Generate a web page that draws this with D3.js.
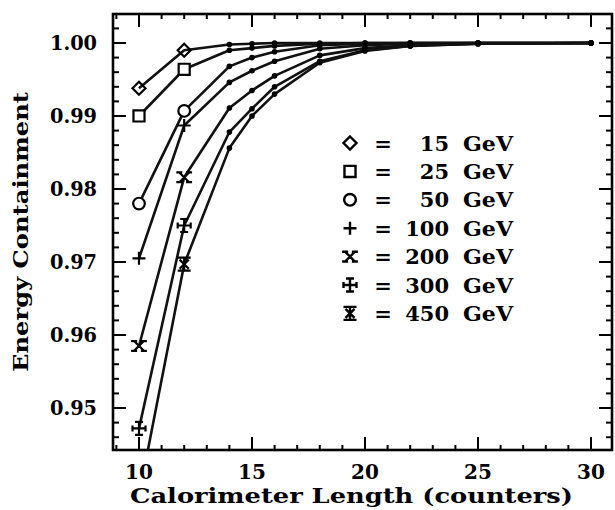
<!DOCTYPE html>
<html><head><meta charset="utf-8">
<script src="https://cdn.jsdelivr.net/npm/d3@7"></script>
<style>body{margin:0;background:#fff}svg{display:block}</style>
</head><body>
<svg id="c" width="615" height="510"></svg>
<script>
// ---- data ----
const lengths = [10, 12, 14, 15, 16, 18, 20, 22, 25, 30];
const energies = ["15", "25", "50", "100", "200", "300", "450"];
const e15  = [0.9938, 0.9990, 0.9998, 0.9999, 1.0000, 1.0000, 1.0000, 1.0000, 1.0000, 1.0000];
const e25  = [0.9900, 0.9964, 0.9990, 0.9993, 0.9996, 0.9999, 1.0000, 1.0000, 1.0000, 1.0000];
const e50  = [0.9780, 0.9907, 0.9968, 0.9980, 0.9988, 0.9997, 0.9999, 1.0000, 1.0000, 1.0000];
const e100 = [0.9705, 0.9887, 0.9946, 0.9962, 0.9975, 0.9992, 0.9997, 0.9999, 1.0000, 1.0000];
const e200 = [0.9585, 0.9816, 0.9911, 0.9935, 0.9955, 0.9983, 0.9993, 0.9997, 0.9999, 1.0000];
const e300 = [0.9472, 0.9750, 0.9878, 0.9910, 0.9940, 0.9975, 0.9990, 0.9996, 0.9999, 1.0000];
const e450 = [0.9380, 0.9697, 0.9856, 0.9900, 0.9930, 0.9973, 0.9989, 0.9996, 0.9999, 1.0000];
const seriesValues = [e15, e25, e50, e100, e200, e300, e450];
const xTickLabels = [10, 15, 20, 25, 30];
const yTickLabels = ["0.95", "0.96", "0.97", "0.98", "0.99", "1.00"];
const markerKinds = ["diamond", "square", "circle", "plus", "xbar", "crossbar", "star"];

// ---- layout ----
const L = 113, R = 612, T = 14, B = 450;
const svg = d3.select("#c");
const x = d3.scaleLinear().domain([8.85, 30.93]).range([L, R]);
const y = d3.scaleLinear().domain([0.94425, 1.00397]).range([B, T]);
const font = "'DejaVu Serif', serif";

svg.append("defs").append("clipPath").attr("id", "clip")
  .append("rect").attr("x", L).attr("y", T).attr("width", R - L).attr("height", B - T);

// ticks
const tk = svg.append("g").attr("stroke", "#000").attr("stroke-width", 2);
const xMinor = d3.range(9, 31, 1);
xMinor.forEach(v => {
  const major = v % 5 === 0, len = major ? 13 : 5;
  tk.append("line").attr("x1", x(v)).attr("x2", x(v)).attr("y1", B).attr("y2", B - len);
  tk.append("line").attr("x1", x(v)).attr("x2", x(v)).attr("y1", T).attr("y2", T + len);
});
const yMinor = d3.range(0, 29).map(i => +(0.946 + i * 0.002).toFixed(3));
yMinor.forEach(v => {
  const major = Math.abs(v * 100 - Math.round(v * 100)) < 1e-6, len = major ? 13 : 6;
  tk.append("line").attr("y1", y(v)).attr("y2", y(v)).attr("x1", L).attr("x2", L + len);
  tk.append("line").attr("y1", y(v)).attr("y2", y(v)).attr("x1", R).attr("x2", R - len);
});

// frame
svg.append("rect").attr("x", L).attr("y", T).attr("width", R - L).attr("height", B - T)
  .attr("fill", "none").attr("stroke", "#000").attr("stroke-width", 2.6);

// tick labels
svg.append("g").selectAll("text").data(xTickLabels).join("text")
  .attr("x", d => x(d)).attr("y", 479).attr("text-anchor", "middle")
  .attr("font-family", font).attr("font-weight", "bold").attr("font-size", 20).text(d => d);
svg.append("g").selectAll("text").data(yTickLabels).join("text")
  .attr("x", 97).attr("y", d => y(+d) + 7).attr("text-anchor", "end")
  .attr("font-family", font).attr("font-weight", "bold").attr("font-size", 20)
  .attr("textLength", 47).attr("lengthAdjust", "spacingAndGlyphs").text(d => d);

// axis titles
svg.append("text").attr("x", 130).attr("y", 503)
  .attr("font-family", font).attr("font-weight", "bold").attr("font-size", 21)
  .attr("textLength", 443).attr("lengthAdjust", "spacingAndGlyphs")
  .text("Calorimeter Length (counters)");
svg.append("text").attr("transform", "translate(28,372) rotate(-90)")
  .attr("font-family", font).attr("font-weight", "bold").attr("font-size", 21)
  .attr("textLength", 280).attr("lengthAdjust", "spacingAndGlyphs")
  .text("Energy Containment");

// marker shapes
function markerPath(kind, s) {
  const p = d3.path();
  if (kind === "diamond") { p.moveTo(0, -s); p.lineTo(s, 0); p.lineTo(0, s); p.lineTo(-s, 0); p.closePath(); }
  else if (kind === "square") { p.rect(-s * 0.85, -s * 0.85, s * 1.7, s * 1.7); }
  else if (kind === "circle") { p.moveTo(s * 0.9, 0); p.arc(0, 0, s * 0.9, 0, 2 * Math.PI); }
  else if (kind === "plus") { p.moveTo(-s, 0); p.lineTo(s, 0); p.moveTo(0, -s); p.lineTo(0, s); }
  else if (kind === "xbar") {
    const a = s * 0.75;
    p.moveTo(-a, -a); p.lineTo(a, a); p.moveTo(a, -a); p.lineTo(-a, a);
    p.moveTo(-a - 3, -a); p.lineTo(-a + 3, -a); p.moveTo(a - 3, -a); p.lineTo(a + 3, -a);
    p.moveTo(-a - 3, a); p.lineTo(-a + 3, a); p.moveTo(a - 3, a); p.lineTo(a + 3, a);
  }
  else if (kind === "crossbar") {
    p.moveTo(-s, 0); p.lineTo(s, 0); p.moveTo(0, -s); p.lineTo(0, s);
    p.moveTo(-4, -s); p.lineTo(4, -s); p.moveTo(-4, s); p.lineTo(4, s);
    p.moveTo(-s, -3); p.lineTo(-s, 3); p.moveTo(s, -3); p.lineTo(s, 3);
  }
  else if (kind === "star") {
    const a = s * 0.7;
    p.moveTo(0, -s); p.lineTo(0, s); p.moveTo(-a, -a); p.lineTo(a, a); p.moveTo(a, -a); p.lineTo(-a, a);
    p.moveTo(-s, -s); p.lineTo(s, -s); p.moveTo(-s, s); p.lineTo(s, s);
  }
  return p.toString();
}

// series
const plot = svg.append("g").attr("clip-path", "url(#clip)");
const line = d3.line().x(d => x(d[0])).y(d => y(d[1]));
seriesValues.forEach((vals, i) => {
  const pts = lengths.map((l, j) => [l, vals[j]]);
  plot.append("path").attr("d", line(pts)).attr("fill", "none")
    .attr("stroke", "#111").attr("stroke-width", 2.6).attr("stroke-linejoin", "round");
  pts.forEach((p, j) => {
    if (j < 2) {
      plot.append("path").attr("transform", `translate(${x(p[0])},${y(p[1])})`)
        .attr("d", markerPath(markerKinds[i], 6.5))
        .attr("fill", markerKinds[i] === "diamond" ? "none" : "#fff")
        .attr("stroke", "#000").attr("stroke-width", 2.2);
    } else {
      plot.append("circle").attr("cx", x(p[0])).attr("cy", y(p[1])).attr("r", 2.8).attr("fill", "#000");
    }
  });
});

// legend
const lg = svg.append("g");
energies.forEach((e, i) => {
  const cy = 143 + i * 28.4;
  lg.append("path").attr("transform", `translate(350,${cy})`).attr("d", markerPath(markerKinds[i], 6.5))
    .attr("fill", "#fff").attr("stroke", "#000").attr("stroke-width", 2.4);
  lg.append("text").attr("x", 383).attr("y", cy + 7.5).attr("text-anchor", "middle")
    .attr("font-family", font).attr("font-weight", "bold").attr("font-size", 21).text("=");
  lg.append("text").attr("x", 449).attr("y", cy + 7.5).attr("text-anchor", "end")
    .attr("font-family", font).attr("font-weight", "bold").attr("font-size", 21).text(e);
  lg.append("text").attr("x", 463).attr("y", cy + 7.5)
    .attr("font-family", font).attr("font-weight", "bold").attr("font-size", 21)
    .attr("textLength", 50).attr("lengthAdjust", "spacingAndGlyphs").text("GeV");
});
</script>
</body></html>
